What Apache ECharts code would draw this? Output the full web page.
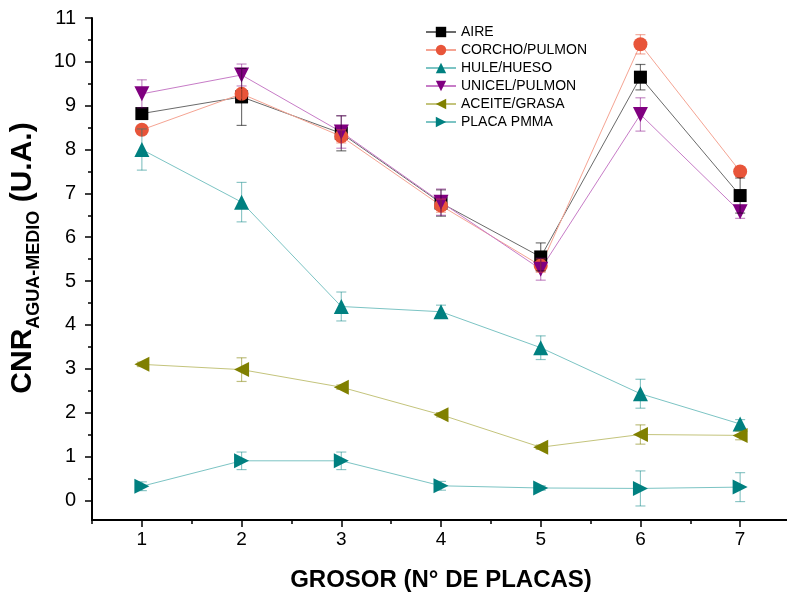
<!DOCTYPE html>
<html>
<head>
<meta charset="utf-8">
<script src="https://cdn.jsdelivr.net/npm/echarts@6/dist/echarts.min.js"></script>
<style>
  html, body { margin: 0; padding: 0; background: #fff; }
  #chart { width: 787px; height: 594px; }
</style>
</head>
<body>
<div id="chart"></div>
<script>
// Thickness (number of plates)
const grosor = [1, 2, 3, 4, 5, 6, 7];

// CNR per material, with the standard deviation of each point
const aire        = [8.82, 9.20, 8.37, 6.78, 5.55, 9.65, 6.95];
const aireErr     = [0.08, 0.65, 0.40, 0.30, 0.32, 0.29, 0.40];
const corcho      = [8.45, 9.27, 8.30, 6.72, 5.35, 10.40, 7.50];
const corchoErr   = [0.08, 0.10, 0.15, 0.15, 0.15, 0.22, 0.10];
const hule        = [8.00, 6.80, 4.42, 4.30, 3.48, 2.43, 1.74];
const huleErr     = [0.47, 0.45, 0.33, 0.15, 0.27, 0.33, 0.10];
const unicel      = [9.27, 9.70, 8.40, 6.80, 5.27, 8.80, 6.58];
const unicelErr   = [0.32, 0.25, 0.37, 0.30, 0.25, 0.38, 0.15];
const aceite      = [3.10, 2.98, 2.58, 1.95, 1.21, 1.50, 1.48];
const aceiteErr   = [0.05, 0.27, 0.05, 0.05, 0.05, 0.22, 0.10];
const pmma        = [0.32, 0.90, 0.90, 0.33, 0.28, 0.27, 0.30];
const pmmaErr     = [0.10, 0.20, 0.20, 0.10, 0.05, 0.40, 0.33];

// Tick values
const yMajor = [0, 1, 2, 3, 4, 5, 6, 7, 8, 9, 10, 11];
const yMinor = [0.5, 1.5, 2.5, 3.5, 4.5, 5.5, 6.5, 7.5, 8.5, 9.5, 10.5];
const xMajor = [1, 2, 3, 4, 5, 6, 7];
const xMinor = [0.5, 1.5, 2.5, 3.5, 4.5, 5.5, 6.5, 7.5];

const materials = [
  { name: 'AIRE',          y: aire,   err: aireErr,   symbol: 'rect',     rot: 0,   size: 13, mark: '#000000', line: '#6a6a6a', bar: 'rgba(0,0,0,0.55)' },
  { name: 'CORCHO/PULMON', y: corcho, err: corchoErr, symbol: 'circle',   rot: 0,   size: 14, mark: '#E8553A', line: '#F5A493', bar: 'rgba(232,85,58,0.5)' },
  { name: 'HULE/HUESO',    y: hule,   err: huleErr,   symbol: 'triangle', rot: 0,   size: 15, mark: '#008080', line: '#7CC4C4', bar: 'rgba(0,128,128,0.45)' },
  { name: 'UNICEL/PULMON', y: unicel, err: unicelErr, symbol: 'triangle', rot: 180, size: 15, mark: '#800080', line: '#C77CC7', bar: 'rgba(128,0,128,0.45)' },
  { name: 'ACEITE/GRASA',  y: aceite, err: aceiteErr, symbol: 'triangle', rot: 90,  size: 15, mark: '#808000', line: '#C4C47C', bar: 'rgba(128,128,0,0.5)' },
  { name: 'PLACA PMMA',    y: pmma,   err: pmmaErr,   symbol: 'triangle', rot: -90, size: 15, mark: '#008080', line: '#7CC4C4', bar: 'rgba(0,128,128,0.45)' }
];

const FONT = 'Arial, "Liberation Sans", sans-serif';

const series = [];
materials.forEach(function (m) {
  series.push({
    name: m.name,
    type: 'line',
    xAxisIndex: 0,
    yAxisIndex: 0,
    data: grosor.map(function (x, i) { return [x, m.y[i]]; }),
    symbol: m.symbol,
    symbolSize: m.size,
    symbolRotate: m.rot,
    showAllSymbol: true,
    lineStyle: { color: m.line, width: 1 },
    itemStyle: { color: m.mark },
    emphasis: { disabled: true },
    animation: false,
    z: 2
  });
});
materials.forEach(function (m) {
  series.push({
    name: m.name + ' (desv.)',
    type: 'custom',
    xAxisIndex: 0,
    yAxisIndex: 0,
    data: grosor.map(function (x, i) { return [x, m.y[i] - m.err[i], m.y[i] + m.err[i]]; }),
    renderItem: function (params, api) {
      const lo = api.coord([api.value(0), api.value(1)]);
      const hi = api.coord([api.value(0), api.value(2)]);
      const hw = 5;
      const st = { stroke: m.bar, lineWidth: 1.2 };
      return {
        type: 'group',
        children: [
          { type: 'line', shape: { x1: lo[0], y1: lo[1], x2: hi[0], y2: hi[1] }, style: st },
          { type: 'line', shape: { x1: lo[0] - hw, y1: lo[1], x2: lo[0] + hw, y2: lo[1] }, style: st },
          { type: 'line', shape: { x1: hi[0] - hw, y1: hi[1], x2: hi[0] + hw, y2: hi[1] }, style: st }
        ]
      };
    },
    encode: { x: 0, y: [1, 2] },
    silent: true,
    animation: false,
    z: 3
  });
});

const chart = echarts.init(document.getElementById('chart'), null, { renderer: 'canvas' });
chart.setOption({
  backgroundColor: '#ffffff',
  animation: false,
  grid: { left: 92, right: -3, top: 18, bottom: 74, containLabel: false, outerBoundsMode: 'none' },
  legend: {
    data: materials.map(function (m) { return m.name; }),
    orient: 'vertical',
    left: 420,
    top: 20,
    itemWidth: 30,
    itemHeight: 13,
    itemGap: 4,
    selectedMode: false,
    textStyle: { fontFamily: FONT, fontSize: 14, color: '#000' }
  },
  xAxis: [
    {
      type: 'value',
      min: 0.5,
      max: 7.5,
      name: 'GROSOR (N° DE PLACAS)',
      nameLocation: 'middle',
      nameGap: 48,
      nameTextStyle: { fontFamily: FONT, fontSize: 24, fontWeight: 'bold', color: '#000' },
      axisLine: { show: true, onZero: false, lineStyle: { color: '#000', width: 2 } },
      axisTick: { show: true, customValues: xMajor, length: 7, lineStyle: { color: '#000', width: 1.5 } },
      axisLabel: { customValues: xMajor, margin: 10, fontFamily: FONT, fontSize: 19, color: '#000' },
      splitLine: { show: false }
    },
    {
      type: 'value',
      min: 0.5,
      max: 7.5,
      position: 'bottom',
      axisLine: { show: false, onZero: false },
      axisTick: { show: true, customValues: xMinor, length: 4, lineStyle: { color: '#000', width: 1.5 } },
      axisLabel: { show: false },
      splitLine: { show: false }
    }
  ],
  yAxis: [
    {
      type: 'value',
      min: -0.45,
      max: 11,
      name: '{a|CNR}{b|AGUA-MEDIO}{a| (U.A.)}',
      nameLocation: 'middle',
      nameGap: 35,
      nameRotate: 90,
      nameTextStyle: {
        padding: [0, 0, 0, 22],
        rich: {
          a: { fontFamily: FONT, fontSize: 30, fontWeight: 'bold', color: '#000', lineHeight: 40, verticalAlign: 'middle' },
          b: { fontFamily: FONT, fontSize: 18, fontWeight: 'bold', color: '#000', lineHeight: 18, verticalAlign: 'bottom' }
        }
      },
      axisLine: { show: true, onZero: false, lineStyle: { color: '#000', width: 2 } },
      axisTick: { show: true, customValues: yMajor, length: 7, lineStyle: { color: '#000', width: 1.5 } },
      axisLabel: { customValues: yMajor, margin: 16, fontFamily: FONT, fontSize: 20, color: '#000' },
      splitLine: { show: false }
    },
    {
      type: 'value',
      min: -0.45,
      max: 11,
      position: 'left',
      axisLine: { show: false, onZero: false },
      axisTick: { show: true, customValues: yMinor, length: 4, lineStyle: { color: '#000', width: 1.5 } },
      axisLabel: { show: false },
      splitLine: { show: false }
    }
  ],
  series: series
});
</script>
</body>
</html>
